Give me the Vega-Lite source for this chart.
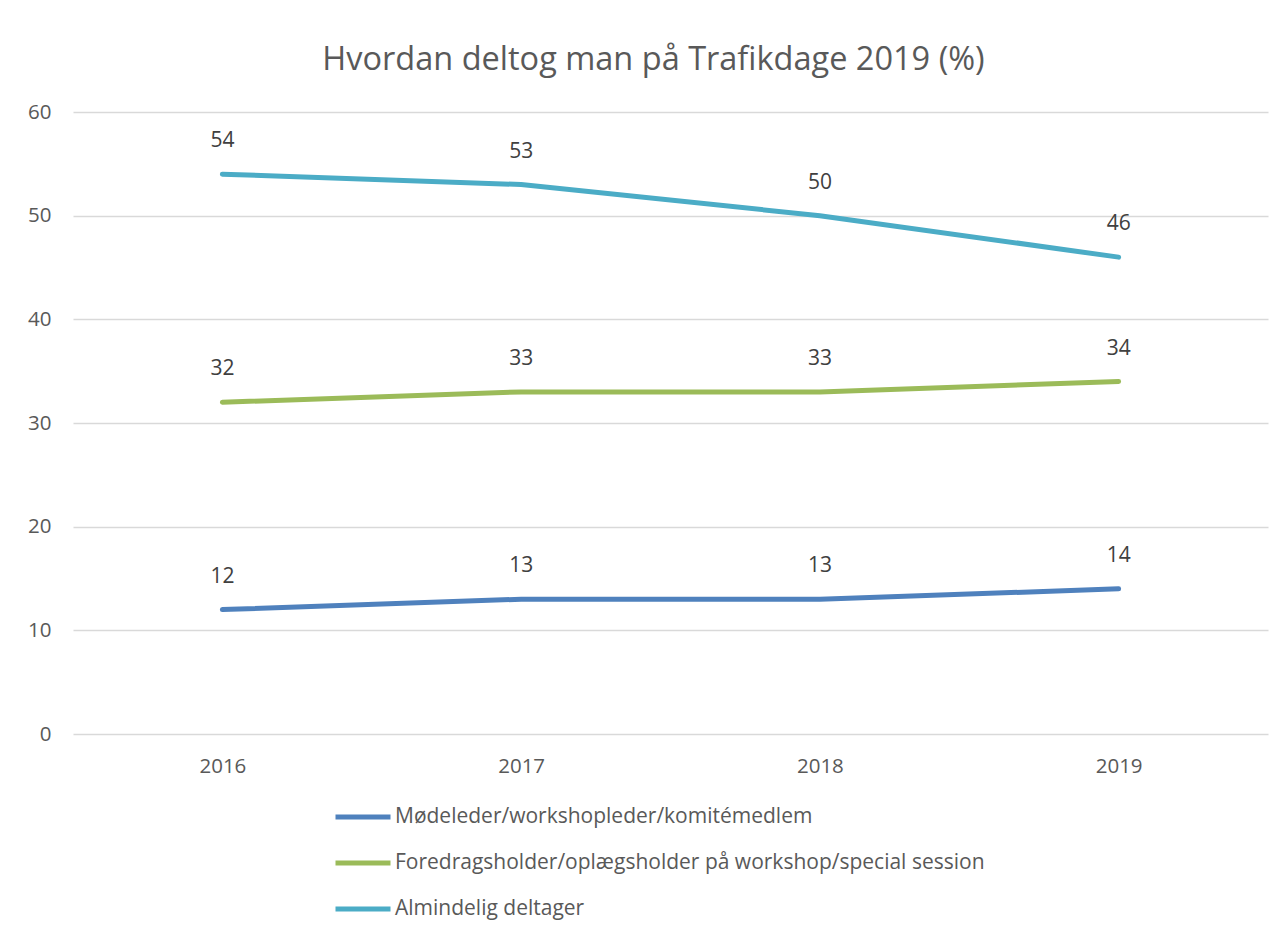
{
  "$schema": "https://vega.github.io/schema/vega-lite/v6.json",
  "autosize": {"type": "none"},
  "width": 1195,
  "height": 622,
  "padding": {"left": 73, "top": 112, "right": 19, "bottom": 202},
  "background": "white",
  "title": {
    "text": "Hvordan deltog man på Trafikdage 2019 (%)",
    "font": "Open Sans",
    "fontSize": 32.5,
    "fontWeight": "normal",
    "color": "#595959",
    "anchor": "middle",
    "dx": -17,
    "offset": 26
  },
  "config": {
    "view": {"stroke": null},
    "font": "Open Sans"
  },
  "data": {
    "values": [
      {"year": "2016", "series": "Mødeleder/workshopleder/komitémedlem", "value": 12},
      {"year": "2017", "series": "Mødeleder/workshopleder/komitémedlem", "value": 13},
      {"year": "2018", "series": "Mødeleder/workshopleder/komitémedlem", "value": 13},
      {"year": "2019", "series": "Mødeleder/workshopleder/komitémedlem", "value": 14},
      {"year": "2016", "series": "Foredragsholder/oplægsholder på workshop/special session", "value": 32},
      {"year": "2017", "series": "Foredragsholder/oplægsholder på workshop/special session", "value": 33},
      {"year": "2018", "series": "Foredragsholder/oplægsholder på workshop/special session", "value": 33},
      {"year": "2019", "series": "Foredragsholder/oplægsholder på workshop/special session", "value": 34},
      {"year": "2016", "series": "Almindelig deltager", "value": 54},
      {"year": "2017", "series": "Almindelig deltager", "value": 53},
      {"year": "2018", "series": "Almindelig deltager", "value": 50},
      {"year": "2019", "series": "Almindelig deltager", "value": 46}
    ]
  },
  "encoding": {
    "x": {
      "field": "year",
      "type": "ordinal",
      "scale": {"type": "point", "padding": 0.5},
      "axis": {
        "title": null,
        "labelAngle": 0,
        "labelFontSize": 20.5,
        "labelColor": "#595959",
        "labelPadding": 22,
        "ticks": false,
        "domain": false,
        "grid": false
      }
    },
    "y": {
      "field": "value",
      "type": "quantitative",
      "scale": {"domain": [0, 60], "nice": false},
      "axis": {
        "title": null,
        "values": [0, 10, 20, 30, 40, 50, 60],
        "labelFontSize": 20.5,
        "labelColor": "#595959",
        "labelPadding": 22,
        "ticks": false,
        "domain": false,
        "grid": true,
        "gridColor": "#d9d9d9",
        "gridWidth": 1.5
      }
    }
  },
  "layer": [
    {
      "mark": {"type": "line", "strokeWidth": 5, "strokeCap": "round", "strokeJoin": "round"},
      "encoding": {
        "color": {
          "field": "series",
          "type": "nominal",
          "sort": ["Mødeleder/workshopleder/komitémedlem", "Foredragsholder/oplægsholder på workshop/special session", "Almindelig deltager"],
          "scale": {
            "domain": ["Mødeleder/workshopleder/komitémedlem", "Foredragsholder/oplægsholder på workshop/special session", "Almindelig deltager"],
            "range": ["#4F81BD", "#9BBB59", "#4BACC6"]
          },
          "legend": {
            "title": null,
            "orient": "none",
            "legendX": 260,
            "legendY": 695,
            "direction": "vertical",
            "symbolType": "stroke",
            "symbolStrokeWidth": 5,
            "symbolSize": 3025,
            "clipHeight": 20,
            "labelFontSize": 21,
            "labelColor": "#595959",
            "labelOffset": 2,
            "rowPadding": 25,
            "labelLimit": 900
          }
        }
      }
    },
    {
      "mark": {"type": "text", "fontSize": 21, "color": "#404040", "dy": -33},
      "encoding": {
        "text": {"field": "value", "type": "quantitative"},
        "detail": {"field": "series"}
      }
    }
  ]
}
